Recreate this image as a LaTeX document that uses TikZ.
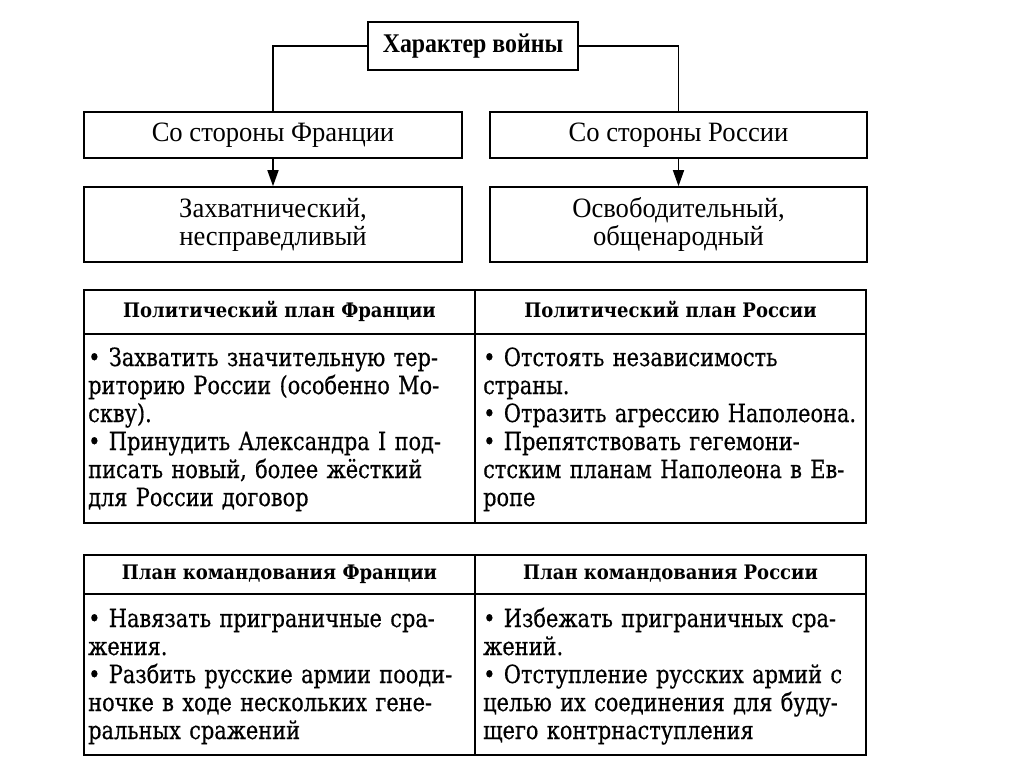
\documentclass[tikz,border=0pt]{standalone}
\usepackage{fontspec}
\setmainfont{DejaVu Serif}[FakeStretch=0.835, FakeBold=0.5]
\newfontfamily\headfont{DejaVu Serif}[FakeStretch=0.9]
\newfontfamily\boxfont{Liberation Serif}[FakeStretch=0.95]
\usetikzlibrary{arrows.meta}
\newcommand{\fullline}[1]{\makebox[\linewidth][s]{#1}}
\begin{document}
\begin{tikzpicture}[x=1pt,y=-1pt,
  box/.style={draw, line width=1.6pt, minimum width=378pt, minimum height=46pt, inner sep=0pt,
    align=center, font=\boxfont\fontsize{28}{28}\selectfont},
  head/.style={draw, line width=1.6pt, minimum width=391pt, minimum height=44pt, inner sep=0pt,
    text height=14.5pt, text depth=4pt, font=\headfont\bfseries\fontsize{20}{21}\selectfont},
  body/.style={anchor=base west, inner sep=0pt, align=left, font=\fontsize{25}{28}\selectfont},
  frame/.style={line width=1.6pt},
  link/.style={line width=1.6pt},
  arr/.style={-{Triangle[length=16pt,width=11pt]}, line width=1.6pt}]
\useasboundingbox[fill=white] (0,0) rectangle (1024,767);
% character of the war
\node[box, minimum width=210pt, minimum height=48pt,
  font=\boxfont\bfseries\fontsize{27}{29}\selectfont] (war) at (473,46) {\scalebox{0.93}[1]{Характер войны}};
\node[box] (france) at (273,135) {Со стороны Франции};
\node[box, minimum width=377pt] (russia) at (678.5,135) {Со стороны России};
\node[box, minimum height=75pt] (frchar) at (273,224.5) {Захватнический,\\несправедливый};
\node[box, minimum width=377pt, minimum height=75pt] (ruchar) at (678.5,224.5) {Освободительный,\\общенародный};
\draw[link] (war.west) -| (france.north);
\draw[link] (war.east) -| (russia.north);
\draw[arr] (france) -- (frchar);
\draw[arr] (russia) -- (ruchar);
% political plans
\node[head] (polfr) at (279.5,312) {Политический план Франции};
\node[head] (polru) at (670.5,312) {Политический план России};
\draw[frame] (84,334) rectangle (475,523);
\draw[frame] (475,334) rectangle (866,523);
\node[body, text width=374pt] (polfrtext) at (88,366) {%
\fullline{• Захватить значительную тер-}\\
\fullline{риторию России (особенно Мо-}\\
скву).\\
\fullline{• Принудить Александра I под-}\\
\fullline{писать новый, более жёсткий}\\
для России договор};
\node[body, text width=377pt] (polrutext) at (483,366) {%
• Отстоять независимость\\
страны.\\
• Отразить агрессию Наполеона.\\
\fullline{• Препятствовать гегемони-}\\
\fullline{стским планам Наполеона в Ев-}\\
ропе};
% command plans
\node[head, minimum height=39pt] (comfr) at (279.5,574.5) {План командования Франции};
\node[head, minimum height=39pt] (comru) at (670.5,574.5) {План командования России};
\draw[frame] (84,594) rectangle (475,755);
\draw[frame] (475,594) rectangle (866,755);
\node[body, text width=374pt] (comfrtext) at (88,627) {%
\fullline{• Навязать приграничные сра-}\\
жения.\\
\fullline{• Разбить русские армии пооди-}\\
\fullline{ночке в ходе нескольких гене-}\\
ральных сражений};
\node[body, text width=377pt] (comrutext) at (483,627) {%
\fullline{• Избежать приграничных сра-}\\
жений.\\
\fullline{• Отступление русских армий с}\\
\fullline{целью их соединения для буду-}\\
щего контрнаступления};
\end{tikzpicture}
\end{document}
